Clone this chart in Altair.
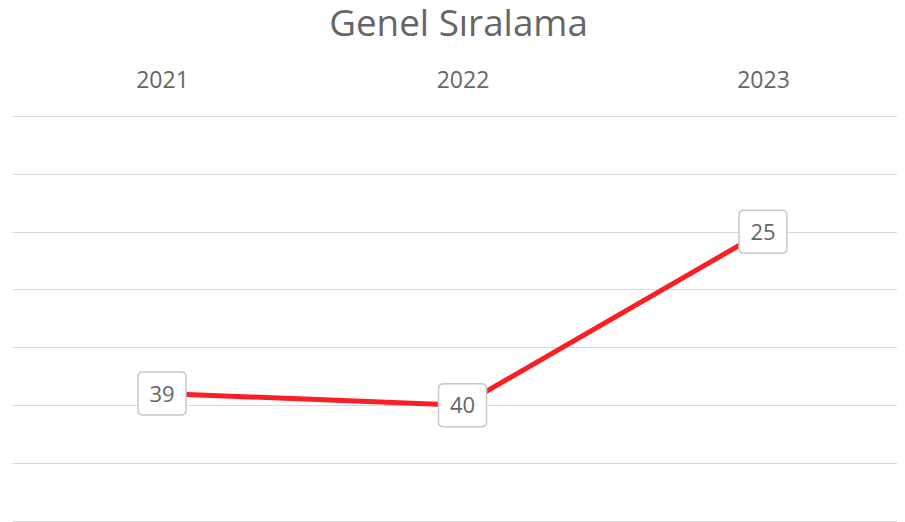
import altair as alt
import pandas as pd

years = ["2021", "2022", "2023"]
ranks = [39, 40, 25]

df = pd.DataFrame({"year": [int(v) for v in years], "rank": ranks})

box_path = ("M -0.792,-0.896 L 0.792,-0.896 Q 1,-0.896 1,-0.688 L 1,0.688 "
            "Q 1,0.896 0.792,0.896 L -0.792,0.896 Q -1,0.896 -1,0.688 "
            "L -1,-0.688 Q -1,-0.896 -0.792,-0.896 Z")

x = alt.X("year:Q",
          scale=alt.Scale(domain=[2020.5008, 2023.4459], nice=False, zero=False),
          axis=alt.Axis(orient="top", title=None, domain=False, ticks=False,
                        values=[int(v) for v in years], format="d",
                        labelAngle=0, labelFont="Open Sans", labelFontSize=23,
                        labelColor="#666666", labelPadding=29,
                        labelBaseline="alphabetic", grid=False))
y = alt.Y("rank:Q",
          scale=alt.Scale(domain=[15, 50], reverse=True, nice=False, zero=False),
          axis=alt.Axis(title=None, labels=False, ticks=False, domain=False,
                        values=[15, 20, 25, 30, 35, 40, 45, 50],
                        gridColor="#d9d9d9", gridWidth=1.2))

base = alt.Chart(df)

line = base.mark_line(color="#fb1e24", strokeWidth=5).encode(x=x, y=y)
boxes = base.mark_point(shape=box_path, size=2304, filled=True, fill="white",
                        stroke="#c8c8c8", strokeWidth=1.5, opacity=1).encode(x=x, y=y)
labels = base.mark_text(font="Open Sans", fontSize=22, color="#666666",
                        baseline="middle", align="center", dy=1).encode(
    x=x, y=y, text="rank:Q")

chart = alt.layer(line, boxes, labels).properties(
    width=885, height=404.8,
    autosize=alt.AutoSizeParams(type="none"),
    padding={"left": 4, "top": 108, "right": 0, "bottom": 1.2},
    title=alt.TitleParams("Genel Sıralama", font="Open Sans", fontSize=36.8,
                          fontWeight="normal", color="#666666", anchor="middle",
                          dx=4, offset=25),
).configure_view(stroke=None)

chart.save("out.html", embed_options={"renderer": "svg", "actions": False})
